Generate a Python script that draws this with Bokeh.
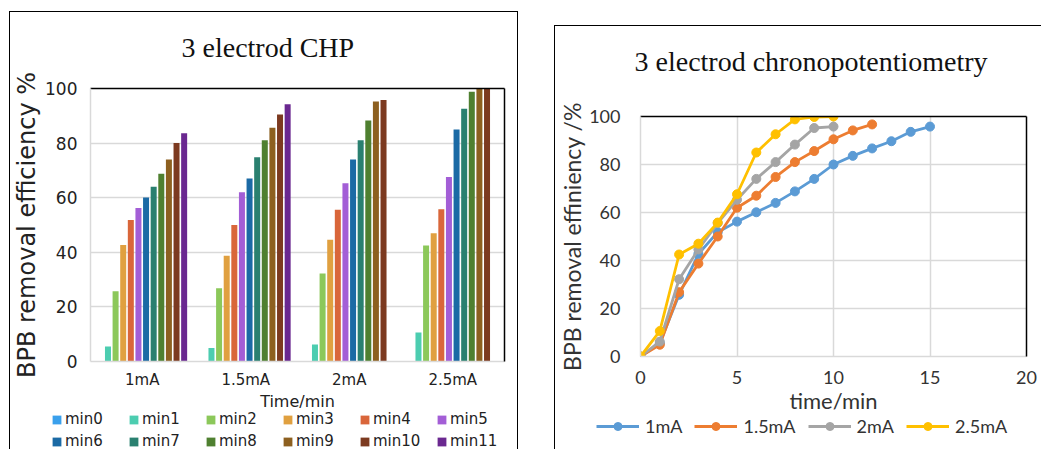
from bokeh.plotting import figure
from bokeh.models import (FactorRange, Range1d, LinearAxis, CategoricalAxis, FixedTicker,
                          ColumnDataSource)
from bokeh.transform import dodge
from bokeh.layouts import row, column
from bokeh.embed import file_html
from bokeh.resources import INLINE

# ---------------- data ----------------
currents = ["1mA", "1.5mA", "2mA", "2.5mA"]
minute_labels = ["min0", "min1", "min2", "min3", "min4", "min5",
                 "min6", "min7", "min8", "min9", "min10", "min11"]

time_1mA = [0, 1, 2, 3, 4, 5, 6, 7, 8, 9, 10, 11, 12, 13, 14, 15]
eff_1mA = [0, 5.5, 25.7, 42.7, 51.8, 56.2, 60.1, 64.0, 68.8, 74.0, 80.0, 83.6, 86.7, 89.7, 93.6, 95.8]

time_1_5mA = [0, 1, 2, 3, 4, 5, 6, 7, 8, 9, 10, 11, 12]
eff_1_5mA = [0, 4.9, 26.8, 38.7, 50.0, 62.0, 67.0, 74.8, 81.0, 85.6, 90.5, 94.2, 96.7]

time_2mA = [0, 1, 2, 3, 4, 5, 6, 7, 8, 9, 10]
eff_2mA = [0, 6.2, 32.2, 44.6, 55.6, 65.3, 74.0, 81.0, 88.3, 95.2, 95.8]

time_2_5mA = [0, 1, 2, 3, 4, 5, 6, 7, 8, 9, 10]
eff_2_5mA = [0, 10.6, 42.5, 47.0, 55.8, 67.6, 85.0, 92.6, 98.8, 99.8, 100.0]

series_times = [time_1mA, time_1_5mA, time_2mA, time_2_5mA]
series_effs = [eff_1mA, eff_1_5mA, eff_2mA, eff_2_5mA]

y_ticks = [0, 20, 40, 60, 80, 100]
x_ticks_line = [0, 5, 10, 15, 20]

# ---------------- styles ----------------
bar_colors = ["#3aa0ec", "#4ccdb0", "#8cc85a", "#e0a040", "#d9663a", "#a35ed6",
              "#1b6aa5", "#2a8070", "#4f8030", "#8d6020", "#7c3a20", "#6a2890"]
line_colors = ["#5b9bd5", "#ed7d31", "#a5a5a5", "#ffc000"]
GRID = "#d9d9d9"
SANS_L = "DejaVu Sans"
SANS_R = "Lato"
SERIF = "Liberation Serif"


def edge_axis(extent, cls, ticks_labels):
    """Axis with blank labels, used only to draw the black top/right frame edge."""
    kw = dict(major_tick_line_color=None, minor_tick_line_color=None,
              major_tick_in=0, major_tick_out=extent, minor_tick_in=0, minor_tick_out=0,
              major_label_standoff=0, axis_label_standoff=0,
              major_label_text_font_size="1px", major_label_text_alpha=0,
              major_label_overrides={t: "" for t in ticks_labels},
              axis_line_color="#000000", axis_line_width=1.5)
    if cls is LinearAxis:
        kw["ticker"] = FixedTicker(ticks=list(ticks_labels))
    return cls(**kw)


def style_legend(leg):
    leg.border_line_color = None
    leg.background_fill_alpha = 0
    leg.padding = 0
    leg.margin = 0


def no_frame_align(p):
    try:
        p.frame_align = False
    except AttributeError:
        pass


# ================= left: bar chart =================
p1 = figure(width=509, height=401, x_range=FactorRange(*currents, range_padding=0),
            y_range=Range1d(0, 100), output_backend="svg", toolbar_location=None,
            min_border_left=79, min_border_right=15, min_border_top=76, min_border_bottom=52,
            title="3 electrod  CHP")
no_frame_align(p1)
p1.margin = (11, 0, 0, 9)
p1.styles = {"border-top": "1px solid #000", "border-left": "1px solid #000",
             "border-right": "1px solid #000"}
p1.title.align = "left"
p1.title.offset = 91
p1.title.text_font = SERIF
p1.title.text_font_size = "28px"
p1.title.text_font_style = "normal"
p1.title.text_color = "#111111"
p1.title.standoff = 27
p1.outline_line_color = None

n_min = len(minute_labels)
slot = 0.0736
bar_w = 0.058
bar_sources = []
for k in range(n_min):
    xs, tops = [], []
    for c, eff in zip(currents, series_effs):
        if k < len(eff):
            xs.append(c)
            tops.append(eff[k])
    src = ColumnDataSource(dict(cat=xs, val=tops))
    bar_sources.append(src)
    p1.vbar(x=dodge("cat", (k - (n_min - 1) / 2) * slot, range=p1.x_range), top="val",
            width=bar_w, source=src, fill_color=bar_colors[k], line_color=None)

p1.xgrid.grid_line_color = None
p1.ygrid.grid_line_color = GRID
p1.ygrid.grid_line_width = 1.5
p1.yaxis.ticker = FixedTicker(ticks=y_ticks)
for ax in (p1.xaxis[0], p1.yaxis[0]):
    ax.axis_line_color = GRID
    ax.axis_line_width = 1.5
    ax.major_tick_line_color = None
    ax.minor_tick_line_color = None
    ax.major_tick_out = 0
    ax.major_tick_in = 0
    ax.major_label_text_font = SANS_L
    ax.major_label_text_color = "#222222"
    ax.axis_label_text_font = SANS_L
    ax.axis_label_text_font_style = "normal"
    ax.axis_label_text_color = "#222222"
p1.yaxis.major_label_text_font_size = "17px"
p1.yaxis.major_label_standoff = 13
p1.yaxis.axis_label = "BPB removal efficiency %"
p1.yaxis.axis_label_text_font_size = "24px"
p1.yaxis.axis_label_standoff = 1
p1.xaxis.major_label_text_font_size = "15px"
p1.xaxis.major_label_standoff = 9
p1.xaxis.axis_label = "Time/min"
p1.xaxis.axis_label_text_font_size = "16px"
p1.xaxis.axis_label_standoff = 0

p1.add_layout(edge_axis(12, CategoricalAxis, currents), "above")
p1.add_layout(edge_axis(0, LinearAxis, [50]), "right")

# legend strip of the bar chart (same sources, drawn outside its visible y range)
p1leg = figure(width=509, height=37, x_range=FactorRange(*currents, range_padding=0),
               y_range=Range1d(1000, 1001), x_axis_type=None, y_axis_type=None,
               output_backend="svg", toolbar_location=None, min_border=0)
no_frame_align(p1leg)
p1leg.margin = (0, 0, 0, 9)
p1leg.styles = {"border-left": "1px solid #000", "border-right": "1px solid #000"}
p1leg.outline_line_color = None
p1leg.xgrid.visible = False
p1leg.ygrid.visible = False
for k in range(n_min):
    p1leg.vbar(x=dodge("cat", (k - (n_min - 1) / 2) * slot, range=p1leg.x_range), top="val",
               width=bar_w, source=bar_sources[k], fill_color=bar_colors[k], line_color=None,
               legend_label=minute_labels[k])
leg1 = p1leg.legend[0]
style_legend(leg1)
leg1.orientation = "horizontal"
leg1.ncols = 6
leg1.location = (41, -1)
leg1.spacing = 4
leg1.glyph_width = 11
leg1.glyph_height = 11
leg1.label_height = 17
leg1.label_width = 59
leg1.label_standoff = 3
leg1.label_text_font = SANS_L
leg1.label_text_font_size = "15px"
leg1.label_text_color = "#222222"

# ================= right: line chart =================
p2 = figure(width=487, height=392, x_range=Range1d(0, 20), y_range=Range1d(0, 100),
            output_backend="svg", toolbar_location=None,
            min_border_left=79, min_border_right=16, min_border_top=90, min_border_bottom=62,
            title="3 electrod chronopotentiometry")
no_frame_align(p2)
p2.margin = (25, 0, 0, 36)
p2.styles = {"border-top": "1px solid #000", "border-left": "1px solid #000"}
p2.title.align = "left"
p2.title.offset = -6
p2.title.text_font = SERIF
p2.title.text_font_size = "28px"
p2.title.text_font_style = "normal"
p2.title.text_color = "#111111"
p2.title.standoff = 33
p2.outline_line_color = None

for t, eff, col in zip(series_times, series_effs, line_colors):
    p2.line(t, eff, line_color=col, line_width=2.8)
    p2.scatter(t, eff, size=9, fill_color=col, line_color=col)

p2.xaxis.ticker = FixedTicker(ticks=x_ticks_line)
p2.yaxis.ticker = FixedTicker(ticks=y_ticks)
p2.xgrid.grid_line_color = GRID
p2.ygrid.grid_line_color = GRID
p2.xgrid.grid_line_width = 1.5
p2.ygrid.grid_line_width = 1.5
for ax in (p2.xaxis[0], p2.yaxis[0]):
    ax.axis_line_color = GRID
    ax.axis_line_width = 1.5
    ax.major_tick_line_color = None
    ax.minor_tick_line_color = None
    ax.major_tick_out = 0
    ax.major_tick_in = 0
    ax.major_label_text_font = SANS_R
    ax.major_label_text_font_size = "18px"
    ax.major_label_text_color = "#333333"
    ax.axis_label_text_font = SANS_R
    ax.axis_label_text_font_style = "normal"
    ax.axis_label_text_color = "#333333"
p2.yaxis.major_label_standoff = 20
p2.yaxis.axis_label = "BPB removal effiniency /%"
p2.yaxis.axis_label_text_font_size = "23px"
p2.yaxis.axis_label_standoff = 0
p2.xaxis.major_label_standoff = 14
p2.xaxis.axis_label = "time/min"
p2.xaxis.axis_label_text_font_size = "22px"
p2.xaxis.axis_label_standoff = 0

p2.add_layout(edge_axis(23, LinearAxis, [10]), "above")
p2.add_layout(edge_axis(0, LinearAxis, [50]), "right")

# legend strip of the line chart (same data, drawn outside its visible y range)
p2leg = figure(width=487, height=32, x_range=Range1d(0, 20), y_range=Range1d(1000, 1001),
               x_axis_type=None, y_axis_type=None, output_backend="svg",
               toolbar_location=None, min_border=0)
no_frame_align(p2leg)
p2leg.margin = (0, 0, 0, 36)
p2leg.styles = {"border-left": "1px solid #000"}
p2leg.outline_line_color = None
p2leg.xgrid.visible = False
p2leg.ygrid.visible = False
for t, eff, cur, col in zip(series_times, series_effs, currents, line_colors):
    p2leg.line(t, eff, line_color=col, line_width=2.8, legend_label=cur)
    p2leg.scatter(t, eff, size=9, fill_color=col, line_color=col, legend_label=cur)
leg2 = p2leg.legend[0]
style_legend(leg2)
leg2.orientation = "horizontal"
leg2.location = (41, 12)
leg2.spacing = 12
leg2.glyph_width = 43
leg2.glyph_height = 20
leg2.label_standoff = 6
leg2.label_text_font = SANS_R
leg2.label_text_font_size = "18px"
leg2.label_text_color = "#333333"

layout = row(column(p1, p1leg), column(p2, p2leg))
open("out.html", "w").write(file_html(layout, INLINE))
